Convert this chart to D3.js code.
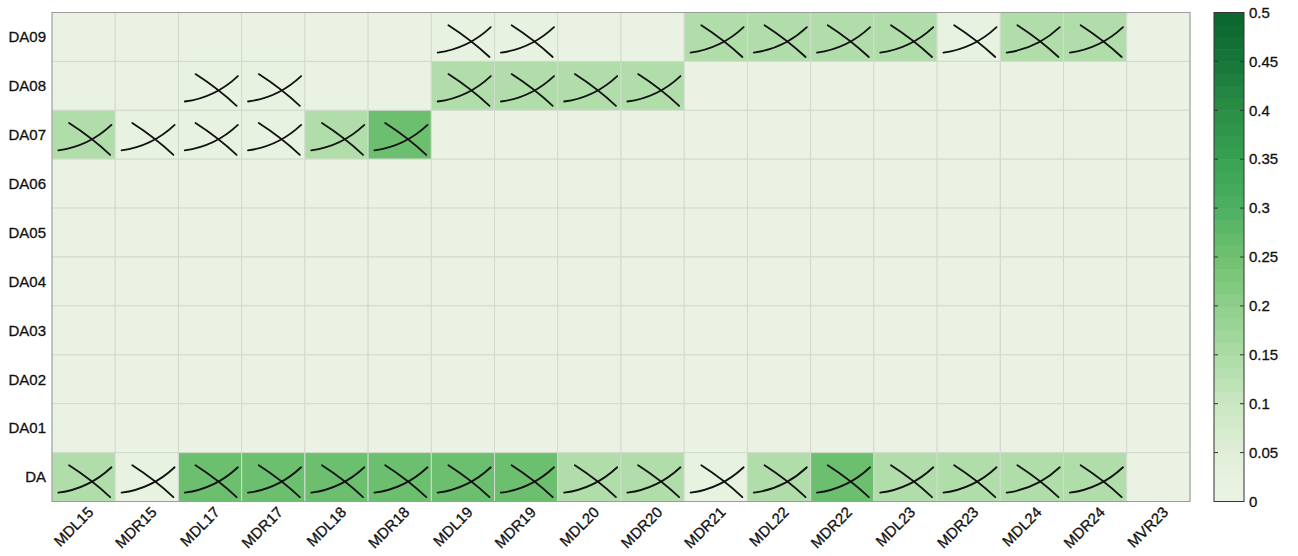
<!DOCTYPE html>
<html>
<head>
<meta charset="utf-8">
<script src="https://cdn.jsdelivr.net/npm/d3@7/dist/d3.min.js"></script>
<style>
  html, body { margin: 0; padding: 0; background: #fff; }
  svg { display: block; }
  text { font-family: "Liberation Sans", Arial, sans-serif; fill: #111; stroke: #111; stroke-width: 0.3px; }
</style>
</head>
<body>
<svg id="chart" width="1298" height="556"></svg>
<script>
// Neuron pairs along the x axis, source neurons along the y axis
const columns = ["MDL15","MDR15","MDL17","MDR17","MDL18","MDR18","MDL19","MDR19",
                 "MDL20","MDR20","MDR21","MDL22","MDR22","MDL23","MDR23","MDL24","MDR24","MVR23"];
const rows = ["DA09","DA08","DA07","DA06","DA05","DA04","DA03","DA02","DA01","DA"];

// One value per column for each row
const DA09 = [0,0,0,0,0,0,0.02,0.02,0,0,0.14,0.14,0.14,0.14,0.02,0.14,0.14,0];
const DA08 = [0,0,0.02,0.02,0,0,0.14,0.14,0.14,0.14,0,0,0,0,0,0,0,0];
const DA07 = [0.14,0.02,0.02,0.02,0.14,0.26,0,0,0,0,0,0,0,0,0,0,0,0];
const DA06 = [0,0,0,0,0,0,0,0,0,0,0,0,0,0,0,0,0,0];
const DA05 = [0,0,0,0,0,0,0,0,0,0,0,0,0,0,0,0,0,0];
const DA04 = [0,0,0,0,0,0,0,0,0,0,0,0,0,0,0,0,0,0];
const DA03 = [0,0,0,0,0,0,0,0,0,0,0,0,0,0,0,0,0,0];
const DA02 = [0,0,0,0,0,0,0,0,0,0,0,0,0,0,0,0,0,0];
const DA01 = [0,0,0,0,0,0,0,0,0,0,0,0,0,0,0,0,0,0];
const DA   = [0.14,0.02,0.26,0.26,0.26,0.26,0.26,0.26,0.14,0.14,0.02,0.14,0.26,0.14,0.14,0.14,0.14,0];

const rowValues = { DA09, DA08, DA07, DA06, DA05, DA04, DA03, DA02, DA01, DA };

// Colour bar ticks
const cbTicks = [0,0.05,0.1,0.15,0.2,0.25,0.3,0.35,0.4,0.45,0.5];
const cbLabels = ["0","0.05","0.1","0.15","0.2","0.25","0.3","0.35","0.4","0.45","0.5"];

// Green colour map stops
const cmapStops = [0,0.05,0.1,0.15,0.2,0.25,0.3,0.35,0.4,0.45,0.5];
const cmapColors = ["#ebf3e4","#e1efd9","#c9e7c1","#acdca5","#8fcf8b","#70c170",
                    "#4eb062","#37a152","#2a8e45","#167639","#0a662d"];
const nLevels = 40;
const vMax = 0.5;

const svg = d3.select("#chart");
const plotLeft = 52, plotRight = 1190, plotTop = 12.5, plotBottom = 501.5;

const x = d3.scaleBand().domain(columns).range([plotLeft, plotRight]);
const y = d3.scaleBand().domain(rows).range([plotTop, plotBottom]);

const cmap = d3.scaleLinear().domain(cmapStops).range(cmapColors).interpolate(d3.interpolateRgb);
const level = v => Math.max(0, Math.min(nLevels - 1, Math.floor(v / vMax * nLevels)));
const levelColor = i => cmap((i + 0.5) / nLevels * vMax);
const colorOf = v => levelColor(level(v));

const cells = [];
rows.forEach(r => rowValues[r].forEach((v, i) => cells.push({ row: r, col: columns[i], value: v })));

// Heat map cells
svg.append("g").selectAll("rect").data(cells).join("rect")
  .attr("x", d => x(d.col))
  .attr("y", d => y(d.row))
  .attr("width", x.bandwidth())
  .attr("height", y.bandwidth())
  .attr("fill", d => colorOf(d.value))
  .attr("stroke", "#d2dace")
  .attr("stroke-width", 1);

// Crossing glyph on every cell with a non-zero value
const glyphs = svg.append("g").attr("fill", "none").attr("stroke", "#111")
  .attr("stroke-width", 1.8).attr("stroke-linecap", "round");
cells.filter(d => d.value > 0).forEach(d => {
  const cx = x(d.col), cy = y(d.row), w = x.bandwidth(), h = y.bandwidth();
  const px = f => cx + f * w, py = f => cy + f * h;
  const p1 = d3.path();
  p1.moveTo(px(0.10), py(0.82));
  p1.quadraticCurveTo(px(0.58), py(0.74), px(0.94), py(0.30));
  const p2 = d3.path();
  p2.moveTo(px(0.27), py(0.26));
  p2.quadraticCurveTo(px(0.62), py(0.55), px(0.92), py(0.91));
  glyphs.append("path").attr("d", p1.toString());
  glyphs.append("path").attr("d", p2.toString());
});

// Plot frame
svg.append("rect")
  .attr("x", plotLeft).attr("y", plotTop)
  .attr("width", plotRight - plotLeft).attr("height", plotBottom - plotTop)
  .attr("fill", "none").attr("stroke", "#9c9c9c").attr("stroke-width", 1);

// Row labels
svg.append("g").selectAll("text").data(rows).join("text")
  .attr("x", plotLeft - 6)
  .attr("y", d => y(d) + y.bandwidth() / 2)
  .attr("text-anchor", "end")
  .attr("dy", "0.35em")
  .style("font-size", "15px")
  .text(d => d);

// Column labels, rotated
svg.append("g").selectAll("text").data(columns).join("text")
  .attr("transform", d => `translate(${x(d) + x.bandwidth() / 2 + 7},${plotBottom + 8}) rotate(-45)`)
  .attr("text-anchor", "end")
  .attr("dy", "0.35em")
  .style("font-size", "15px")
  .text(d => d);

// Colour bar
const cbX = 1214, cbW = 30;
const cbY = d3.scaleLinear().domain([0, vMax]).range([plotBottom, plotTop]);
const bands = d3.range(nLevels);
svg.append("g").selectAll("rect").data(bands).join("rect")
  .attr("x", cbX)
  .attr("y", i => cbY((i + 1) / nLevels * vMax))
  .attr("width", cbW)
  .attr("height", i => cbY(i / nLevels * vMax) - cbY((i + 1) / nLevels * vMax) + 0.5)
  .attr("fill", i => levelColor(i));

svg.append("rect")
  .attr("x", cbX).attr("y", plotTop).attr("width", cbW).attr("height", plotBottom - plotTop)
  .attr("fill", "none").attr("stroke", "#333").attr("stroke-width", 1);

const tickG = svg.append("g").attr("stroke", "#333").attr("stroke-width", 1);
cbTicks.forEach(t => {
  tickG.append("line").attr("x1", cbX).attr("x2", cbX + 4).attr("y1", cbY(t)).attr("y2", cbY(t));
  tickG.append("line").attr("x1", cbX + cbW - 4).attr("x2", cbX + cbW).attr("y1", cbY(t)).attr("y2", cbY(t));
});

svg.append("g").selectAll("text").data(cbTicks).join("text")
  .attr("x", cbX + cbW + 5)
  .attr("y", d => cbY(d))
  .attr("dy", "0.35em")
  .style("font-size", "15px")
  .text((d, i) => cbLabels[i]);
</script>
</body>
</html>
